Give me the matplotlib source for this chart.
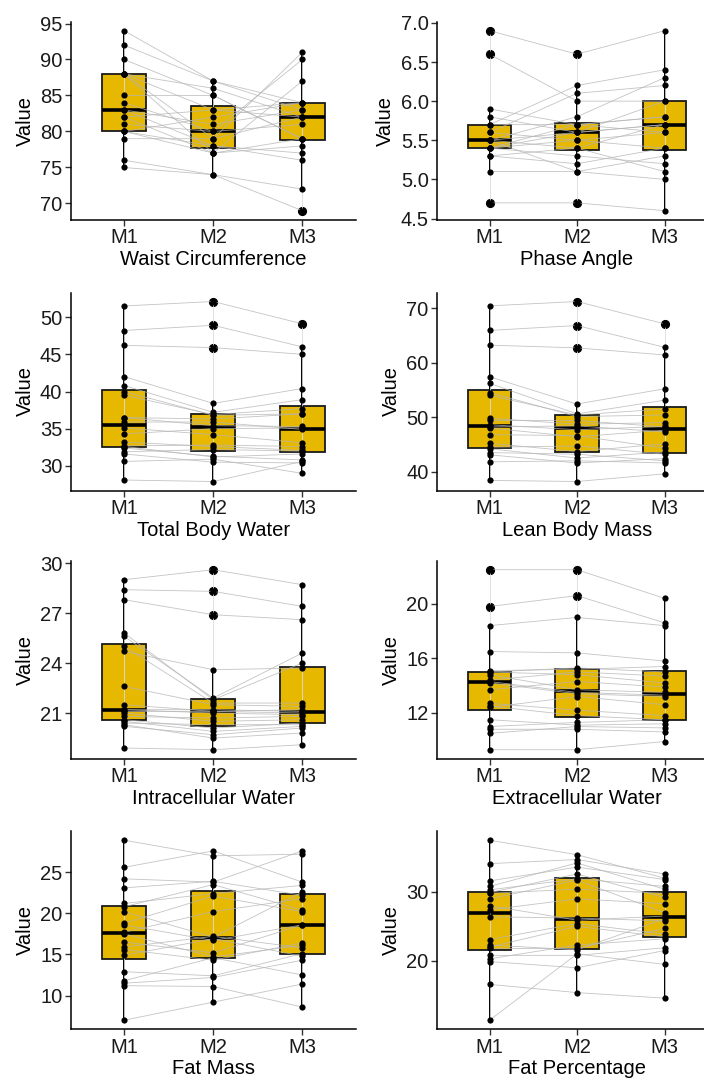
import matplotlib
matplotlib.use("Agg")
import matplotlib.pyplot as plt
import numpy as np

plt.rcParams['font.family'] = ['Liberation Sans', 'DejaVu Sans']

groups = ["M1", "M2", "M3"]

# Values per subject (same position = same subject across M1, M2, M3)
waist_m1 = [75, 76, 79, 80, 80, 80, 81, 82, 82, 83, 83, 84, 85, 88, 88, 88, 88, 90, 92, 94]
waist_m2 = [74, 74, 79, 82, 77, 78, 80, 83, 77, 78, 81, 80, 85, 79, 83, 77, 86, 85, 87, 87]
waist_m3 = [72, 69, 82, 84, 79, 76, 90, 82, 78, 77, 83, 81, 79, 91, 84, 87, 82, 79, 84, 83]

phase_m1 = [4.7, 5.1, 5.3, 5.3, 5.4, 5.4, 5.4, 5.4, 5.5, 5.5, 5.5, 5.5, 5.6, 5.6, 5.7, 5.7, 5.8, 5.9, 6.6, 6.9]
phase_m2 = [4.7, 5.1, 5.4, 5.2, 5.5, 5.3, 5.6, 5.7, 5.1, 5.8, 5.6, 5.4, 6.1, 5.5, 6.2, 5.7, 5.6, 5.7, 6.0, 6.6]
phase_m3 = [4.6, 5.3, 5.7, 5.4, 5.6, 5.2, 6.0, 5.8, 5.0, 6.3, 5.7, 5.1, 6.2, 5.4, 6.4, 5.8, 5.7, 5.6, 6.0, 6.9]

tbw_m1 = [28.1, 30.6, 31.6, 31.9, 32.4, 32.6, 32.7, 33.2, 34.3, 35.1, 35.9, 36.5, 36.5, 39.5, 40.0, 40.8, 42.0, 46.2, 48.2, 51.5]
tbw_m2 = [27.9, 30.9, 30.5, 32.2, 31.3, 31.2, 32.8, 32.6, 35.0, 34.2, 35.9, 35.4, 36.3, 36.9, 36.8, 37.2, 38.4, 45.9, 48.9, 52.1]
tbw_m3 = [30.6, 29.0, 30.4, 32.0, 30.8, 31.6, 32.6, 32.1, 35.1, 33.1, 34.9, 35.3, 37.0, 37.7, 37.0, 38.9, 40.4, 45.0, 46.0, 49.1]

lbm_m1 = [38.4, 41.8, 43.1, 43.5, 44.2, 44.5, 45.2, 46.8, 48.0, 48.2, 48.6, 49.4, 49.8, 54.0, 54.5, 56.2, 57.4, 63.2, 65.9, 70.4]
lbm_m2 = [38.2, 42.0, 41.6, 43.2, 42.5, 44.7, 43.7, 46.6, 46.4, 48.4, 47.7, 49.4, 48.7, 50.4, 50.1, 50.6, 52.4, 62.7, 66.8, 71.2]
lbm_m3 = [39.6, 41.6, 42.4, 42.0, 43.6, 43.2, 45.1, 44.3, 47.6, 47.3, 48.3, 48.2, 49.0, 51.5, 50.4, 53.1, 55.2, 61.4, 62.8, 67.1]

icw_m1 = [18.9, 20.2, 20.3, 20.4, 20.5, 20.6, 20.8, 21.0, 21.1, 21.2, 21.2, 21.5, 22.6, 24.7, 25.0, 25.6, 25.8, 27.8, 28.4, 29.0]
icw_m2 = [18.8, 19.7, 19.5, 20.3, 19.9, 20.1, 20.7, 20.5, 21.1, 21.0, 21.2, 21.1, 21.5, 23.6, 21.6, 21.9, 21.8, 26.9, 28.3, 29.6]
icw_m3 = [19.1, 20.1, 19.8, 20.3, 20.2, 20.4, 20.8, 20.6, 21.0, 20.9, 21.1, 21.2, 21.4, 23.7, 21.6, 24.6, 24.0, 26.6, 27.4, 28.7]

ecw_m1 = [9.3, 10.5, 10.8, 11.0, 11.5, 12.4, 12.5, 12.7, 13.7, 14.2, 14.3, 14.4, 14.8, 15.0, 15.0, 15.1, 16.5, 18.4, 19.8, 22.5]
ecw_m2 = [9.3, 11.0, 10.8, 11.3, 11.1, 13.2, 11.8, 12.2, 14.3, 13.4, 13.5, 15.0, 13.7, 15.3, 14.8, 15.2, 16.4, 19.0, 20.6, 22.5]
ecw_m3 = [9.9, 10.9, 10.6, 11.5, 11.2, 12.6, 11.5, 11.8, 13.9, 13.2, 13.3, 14.7, 13.5, 15.0, 14.2, 15.4, 15.8, 18.4, 18.6, 20.4]

fm_m1 = [7.0, 11.2, 11.5, 11.8, 12.9, 14.9, 15.6, 15.9, 16.5, 17.5, 17.7, 18.6, 18.8, 20.2, 20.8, 21.2, 23.1, 24.2, 25.6, 28.9]
fm_m2 = [9.2, 11.1, 12.2, 14.6, 12.4, 16.9, 14.3, 17.2, 15.2, 14.7, 20.2, 16.7, 22.1, 17.1, 23.5, 22.4, 23.9, 23.8, 27.6, 27.0]
fm_m3 = [11.4, 8.6, 14.3, 12.5, 15.1, 14.8, 16.4, 15.8, 18.6, 16.1, 21.8, 18.6, 20.2, 22.6, 20.4, 23.4, 22.2, 27.6, 23.8, 27.2]

fp_m1 = [11.4, 16.6, 19.9, 20.3, 20.8, 21.8, 22.0, 22.3, 23.1, 26.4, 27.4, 28.0, 29.0, 29.8, 29.9, 30.3, 30.8, 31.6, 34.1, 37.5]
fp_m2 = [21.0, 15.4, 19.0, 22.3, 20.8, 21.8, 25.0, 21.6, 25.4, 26.2, 29.0, 25.9, 31.7, 30.4, 32.6, 31.9, 34.2, 33.6, 34.7, 35.4]
fp_m3 = [19.5, 14.6, 21.5, 23.2, 21.9, 24.7, 23.5, 26.1, 23.9, 25.8, 28.3, 26.5, 27.0, 29.8, 29.2, 30.8, 30.4, 31.8, 32.6, 32.0]

titles = ["Waist Circumference", "Phase Angle", "Total Body Water", "Lean Body Mass",
          "Intracellular Water", "Extracellular Water", "Fat Mass", "Fat Percentage"]
yticks = [[70, 75, 80, 85, 90, 95], [4.5, 5.0, 5.5, 6.0, 6.5, 7.0], [30, 35, 40, 45, 50],
          [40, 50, 60, 70], [21, 24, 27, 30], [12, 16, 20], [10, 15, 20, 25], [20, 30]]
ytick_fmt = ["{:.0f}", "{:.1f}", "{:.0f}", "{:.0f}", "{:.0f}", "{:.0f}", "{:.0f}", "{:.0f}"]

panels = [
    (waist_m1, waist_m2, waist_m3),
    (phase_m1, phase_m2, phase_m3),
    (tbw_m1, tbw_m2, tbw_m3),
    (lbm_m1, lbm_m2, lbm_m3),
    (icw_m1, icw_m2, icw_m3),
    (ecw_m1, ecw_m2, ecw_m3),
    (fm_m1, fm_m2, fm_m3),
    (fp_m1, fp_m2, fp_m3),
]

W, H = 704, 1079
fig = plt.figure(figsize=(W / 100, H / 100), dpi=100)

row_tops = [21.7, 292.5, 560.7, 831.2]
row_h = 198.0
col_lr = [(70.7, 355.7), (437.0, 717.0)]

box_color = "#E7B800"
fs = 14.5

for i, (data, title) in enumerate(zip(panels, titles)):
    r, c = divmod(i, 2)
    l, rr = col_lr[c]
    top = row_tops[r]
    ax = fig.add_axes([l / W, 1 - (top + row_h) / H, (rr - l) / W, row_h / H])
    pos = [1, 2, 3]
    ax.boxplot(data, positions=pos, widths=0.5, whis=1.5, patch_artist=True,
               showcaps=False, showfliers=True,
               boxprops=dict(facecolor=box_color, edgecolor="#1a1a1a", linewidth=1.3),
               medianprops=dict(color="black", linewidth=2.6),
               whiskerprops=dict(color="black", linewidth=1.4),
               flierprops=dict(marker="o", markerfacecolor="black", markeredgecolor="black",
                               markersize=5.6, linestyle="none"),
               zorder=1)
    arr = np.array(data)
    # faint vertical range lines
    for k in range(3):
        ax.plot([pos[k], pos[k]], [arr[k].min(), arr[k].max()], color="#dcdcdc",
                lw=0.6, zorder=1.5)
    # paired subject lines
    for s in range(arr.shape[1]):
        ax.plot(pos, arr[:, s], color="#b5b5b5", lw=0.6, alpha=0.8, zorder=2)
    for k in range(3):
        ax.scatter(np.full(arr.shape[1], pos[k]), arr[k], s=20, color="black", zorder=3,
                   linewidths=0)
    lo, hi = arr.min(), arr.max()
    pad = (hi - lo) * 0.05
    ax.set_ylim(lo - pad, hi + pad)
    ax.set_xlim(0.4, 3.6)
    ax.set_xticks(pos)
    ax.set_xticklabels(groups, fontsize=fs, color="#1a1a1a")
    ax.set_yticks(yticks[i])
    ax.set_yticklabels([ytick_fmt[i].format(v) for v in yticks[i]], fontsize=fs, color="#1a1a1a")
    ax.set_ylabel("Value", fontsize=fs, labelpad=4)
    ax.set_xlabel(title, fontsize=fs, labelpad=2)
    for sp in ["top", "right"]:
        ax.spines[sp].set_visible(False)
    for sp in ["left", "bottom"]:
        ax.spines[sp].set_linewidth(1.1)
        ax.spines[sp].set_color("black")
    ax.tick_params(axis="both", direction="out", length=4.5, width=1.0, color="#333333", pad=1.5)

fig.savefig("out.png", dpi=100)
